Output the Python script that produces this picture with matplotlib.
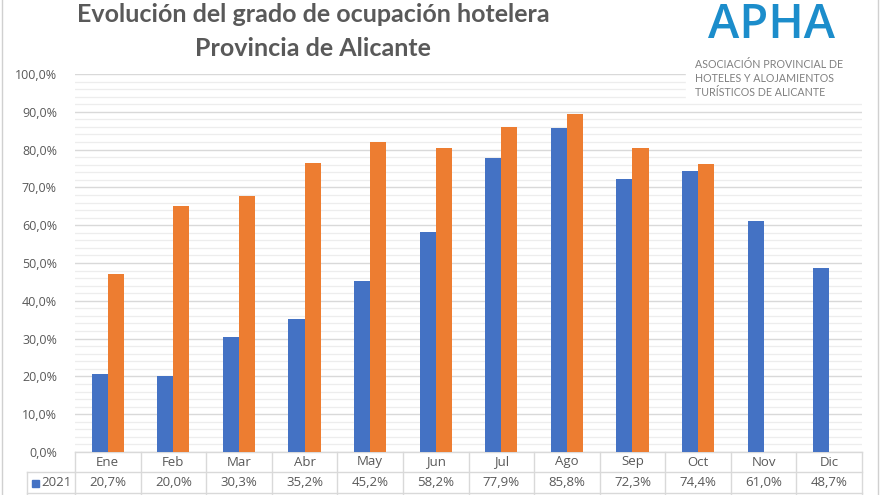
import matplotlib
matplotlib.use("Agg")
import matplotlib.pyplot as plt
from matplotlib.lines import Line2D
from matplotlib.patches import Rectangle
import numpy as np

months = ["Ene", "Feb", "Mar", "Abr", "May", "Jun", "Jul", "Ago", "Sep", "Oct", "Nov", "Dic"]
occ_2021 = [20.7, 20.0, 30.3, 35.2, 45.2, 58.2, 77.9, 85.8, 72.3, 74.4, 61.0, 48.7]
occ_2022 = [47.2, 65.0, 67.7, 76.5, 82.0, 80.5, 86.0, 89.5, 80.3, 76.2, None, None]
series_labels = ["2021", "2022"]
title_lines = ["Evolución del grado de ocupación hotelera", "Provincia de Alicante"]
yticks = [0, 10, 20, 30, 40, 50, 60, 70, 80, 90, 100]

BLUE = "#4472C4"
ORANGE = "#ED7D31"
GREY_TXT = "#595959"
GRID = "#D9D9D9"
GRID_MIN = "#EDEDED"

plt.rcParams['font.family'] = ['Open Sans', 'DejaVu Sans']

W, H = 880, 495
fig = plt.figure(figsize=(W / 100, H / 100), dpi=100)
fig.patch.set_facecolor("white")

def fx(px):
    return px / W

def fy(py):
    return 1 - py / H

ax_l, ax_r, ax_t, ax_b = 75, 862, 74, 452
ax = fig.add_axes([fx(ax_l), fy(ax_b), fx(ax_r - ax_l), (ax_b - ax_t) / H])
ax.set_facecolor("none")

x = np.arange(len(months))
bw = 0.245
ax.bar(x - bw / 2, occ_2021, width=bw, color=BLUE, zorder=3)
v22 = [np.nan if v is None else v for v in occ_2022]
ax.bar(x + bw / 2, v22, width=bw, color=ORANGE, zorder=3)

ax.set_xlim(-0.5, len(months) - 0.5)
ax.set_ylim(0, 100)
ax.set_yticks(yticks)
ax.set_yticklabels([f"{v:.1f}%".replace(".", ",") for v in yticks], fontsize=9, color=GREY_TXT)
ax.set_yticks(np.arange(0, 100, 2), minor=True)
ax.tick_params(axis="y", which="both", length=0, pad=13)
ax.set_xticks([])
ax.grid(axis="y", which="major", color=GRID, lw=1.0, zorder=0)
ax.grid(axis="y", which="minor", color=GRID_MIN, lw=0.9, zorder=0)
for s in ax.spines.values():
    s.set_visible(False)

# data table below the axes
trans = ax.get_xaxis_transform()
px_per_ax = (ax_b - ax_t)
r1 = 20 / px_per_ax
r2 = 21 / px_per_ax
r3 = 21 / px_per_ax
tcol = GRID
lw = 1.0
ax.add_line(Line2D([-0.5, len(months) - 0.5], [0, 0], transform=trans, color=tcol, lw=lw, clip_on=False))
ax.add_line(Line2D([-0.5, len(months) - 0.5], [-r1, -r1], transform=trans, color=tcol, lw=lw, clip_on=False))
ax.add_line(Line2D([-0.5, len(months) - 0.5], [-r1 - r2, -r1 - r2], transform=trans, color=tcol, lw=lw, clip_on=False))
for i in range(len(months) + 1):
    ax.add_line(Line2D([i - 0.5, i - 0.5], [0, -r1 - r2 - r3], transform=trans, color=tcol, lw=lw, clip_on=False))
for i, m in enumerate(months):
    ax.text(i, -r1 / 2, m, transform=trans, ha="center", va="center", fontsize=9.5, color=GREY_TXT)
    ax.text(i, -r1 - r2 / 2, f"{occ_2021[i]:.1f}%".replace(".", ","), transform=trans,
            ha="center", va="center", fontsize=9.5, color=GREY_TXT)

# row header cell
hx0 = 27
fig.add_artist(Line2D([fx(hx0), fx(ax_l)], [fy(ax_b + 20), fy(ax_b + 20)], color=tcol, lw=lw))
fig.add_artist(Line2D([fx(hx0), fx(ax_l)], [fy(ax_b + 41), fy(ax_b + 41)], color=tcol, lw=lw))
fig.add_artist(Line2D([fx(hx0), fx(hx0)], [fy(ax_b + 20), fy(ax_b + 62)], color=tcol, lw=lw))
fig.add_artist(Rectangle((fx(32), fy(ax_b + 35)), fx(7), 7 / H, color=BLUE))
fig.text(fx(41), fy(ax_b + 31), series_labels[0], ha="left", va="center", fontsize=9.5, color=GREY_TXT)

# outer frame lines
fig.add_artist(Line2D([fx(2), fx(2)], [0, 1], color="#D0D0D0", lw=1))
fig.add_artist(Line2D([fx(878), fx(878)], [0, 1], color="#D0D0D0", lw=1))

# title
fig.text(fx(313), fy(14), title_lines[0], ha="center", va="center", fontsize=18, fontweight="bold",
         color=GREY_TXT, family=["Lato", "DejaVu Sans"])
fig.text(fx(313), fy(48), title_lines[1], ha="center", va="center", fontsize=18, fontweight="bold",
         color=GREY_TXT, family=["Lato", "DejaVu Sans"])

# logo block
fig.add_artist(Rectangle((fx(686), fy(102)), fx(176), 102 / H, color="white", zorder=5))
fig.text(fx(771), fy(25), "APHA", ha="center", va="center", fontsize=34, fontweight="semibold",
         color="#1C8DCB", family=["Open Sans", "DejaVu Sans"], zorder=6)
for k, line in enumerate(["ASOCIACIÓN PROVINCIAL DE", "HOTELES Y ALOJAMIENTOS", "TURÍSTICOS DE ALICANTE"]):
    fig.text(fx(695), fy(65 + 14 * k), line, ha="left", va="center", fontsize=7.7,
             color="#808080", family=["Lato", "DejaVu Sans"], zorder=6)

fig.savefig("out.png", dpi=100)
